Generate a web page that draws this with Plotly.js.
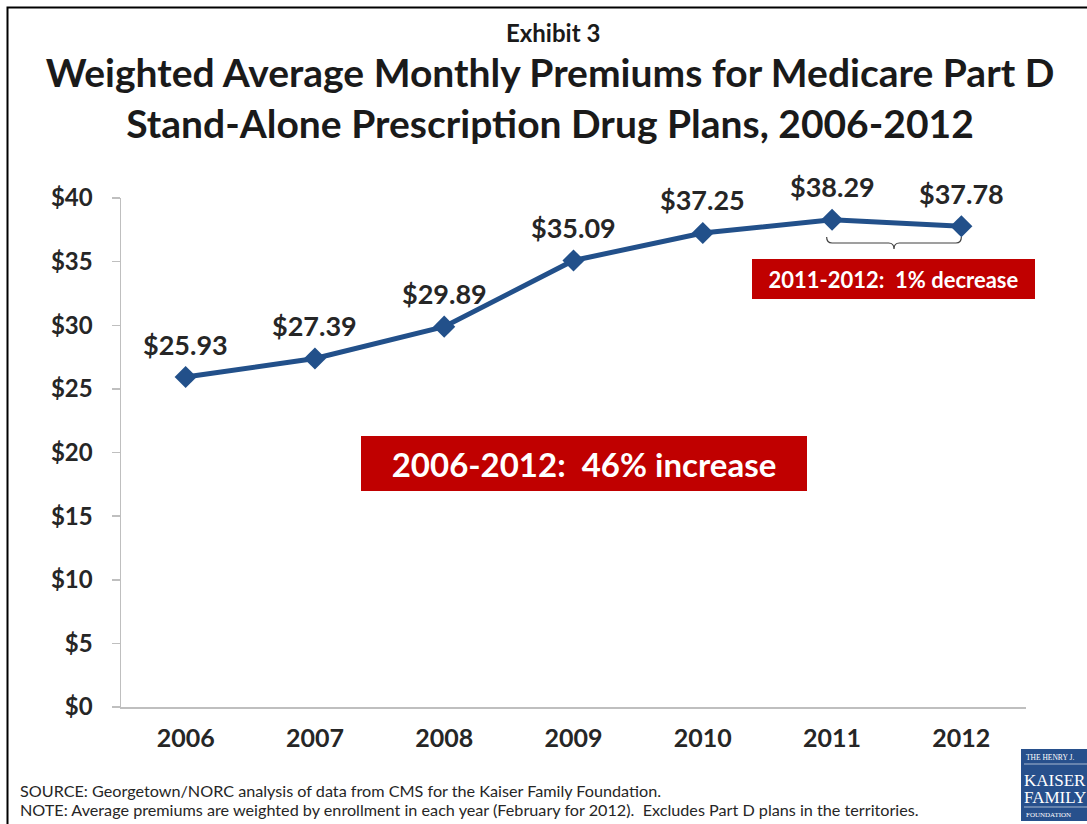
<!DOCTYPE html>
<html>
<head>
<meta charset="utf-8">
<script src="https://cdn.plot.ly/plotly-3.0.1.min.js"></script>
<style>html,body{margin:0;padding:0;background:#fff;}#chart{width:1087px;height:824px;}</style>
</head>
<body>
<div id="chart"></div>
<script>
const years = ["2006", "2007", "2008", "2009", "2010", "2011", "2012"];
const premiums = [25.93, 27.39, 29.89, 35.09, 37.25, 38.29, 37.78];
const valueLabels = ["$25.93", "$27.39", "$29.89", "$35.09", "$37.25", "$38.29", "$37.78"];
const yTickVals = [0, 5, 10, 15, 20, 25, 30, 35, 40];
const yTickText = ["$0", "$5", "$10", "$15", "$20", "$25", "$30", "$35", "$40"];
const exhibitText = "Exhibit 3";
const titleText = "Weighted Average Monthly Premiums for Medicare Part D<br>Stand-Alone Prescription Drug Plans, 2006-2012";
const bigCallout = "2006-2012:\u00a0 46% increase";
const smallCallout = "2011-2012:\u00a0 1% decrease";
const sourceText = "SOURCE: Georgetown/NORC analysis of data from CMS for the Kaiser Family Foundation.";
const noteText = "NOTE: Average premiums are weighted by enrollment in each year (February for 2012).  Excludes Part D plans in the territories.";

const FONT = "Lato, 'Open Sans', sans-serif";
const SERIF = "'Liberation Serif', 'DejaVu Serif', serif";
const W = 1087, H = 824;
const L = 121, R = 61, T = 198, B = 117;
const pw = W - L - R, ph = H - T - B;
const px = v => (v - L) / pw;
const py = v => (H - B - v) / ph;

const trace = {
  x: years, y: premiums, type: 'scatter', mode: 'lines+markers',
  line: {color: '#22508A', width: 5},
  marker: {symbol: 'diamond', size: 17, color: '#22508A'},
  hoverinfo: 'skip'
};

const annotations = years.map((yr, i) => ({
  x: i, y: premiums[i], xref: 'x', yref: 'y',
  text: '<b>' + valueLabels[i] + '</b>', showarrow: false,
  xanchor: 'center', yanchor: 'middle', yshift: 33,
  font: {family: FONT, size: 27, color: '#262626'}
}));

function paperText(x, y, text, font, extra) {
  return Object.assign({xref: 'paper', yref: 'paper', x: px(x), y: py(y), text: text, showarrow: false,
    xanchor: 'center', yanchor: 'middle', font: font}, extra || {});
}

annotations.push(
  paperText(553, 32, '<b>' + exhibitText + '</b>', {family: FONT, size: 24, color: '#1a1a1a'}),
  paperText(584, 463.5, '<b>' + bigCallout + '</b>', {family: FONT, size: 33, color: '#ffffff'},
    {width: 446, height: 55, bgcolor: '#C00000', borderpad: 0, borderwidth: 0}),
  paperText(893.5, 279, '<b>' + smallCallout + '</b>', {family: FONT, size: 22, color: '#ffffff'},
    {width: 283, height: 40, bgcolor: '#C00000', borderpad: 0, borderwidth: 0}),
  paperText(18, 790.5, sourceText, {family: FONT, size: 16.2, color: '#262626'}, {xanchor: 'left'}),
  paperText(18, 809.5, noteText, {family: FONT, size: 16.2, color: '#262626'}, {xanchor: 'left'}),
  paperText(1024, 758, 'THE HENRY J.', {family: SERIF, size: 7.5, color: '#ffffff'}, {xanchor: 'left'}),
  paperText(1022, 780, 'KAISER', {family: SERIF, size: 17, color: '#ffffff'}, {xanchor: 'left'}),
  paperText(1022, 797, 'FAMILY', {family: SERIF, size: 17, color: '#ffffff'}, {xanchor: 'left'}),
  paperText(1024, 815, 'FOUNDATION', {family: SERIF, size: 7, color: '#ffffff'}, {xanchor: 'left'})
);

// brace under 2011-2012 (paper coords from category positions)
const bx0 = 5.5 / 7 - 0.006, bx1 = 6.5 / 7, bxm = (bx0 + bx1) / 2;
const yTop = py(237), yMid = py(243), yTip = py(249);
const dx = 0.006;
const bracePath = `M ${bx0} ${yTop} Q ${bx0} ${yMid} ${bx0 + dx} ${yMid} L ${bxm - dx} ${yMid} Q ${bxm} ${yMid} ${bxm} ${yTip} Q ${bxm} ${yMid} ${bxm + dx} ${yMid} L ${bx1 - dx} ${yMid} Q ${bx1} ${yMid} ${bx1} ${yTop}`;

const shapes = [
  {type: 'rect', xref: 'paper', yref: 'paper', x0: px(7.5), x1: px(1100), y0: py(7.5), y1: py(840),
   line: {color: '#000000', width: 2}, fillcolor: 'rgba(0,0,0,0)', layer: 'below'},
  {type: 'rect', xref: 'paper', yref: 'paper', x0: px(1021), x1: px(1095), y0: py(749), y1: py(821),
   line: {width: 0}, fillcolor: '#27508C', layer: 'below'},
  {type: 'line', xref: 'paper', yref: 'paper', x0: px(1024), x1: px(1090), y0: py(764), y1: py(764),
   line: {color: '#ffffff', width: 0.6}},
  {type: 'line', xref: 'paper', yref: 'paper', x0: px(1024), x1: px(1090), y0: py(807), y1: py(807),
   line: {color: '#ffffff', width: 0.6}},
  {type: 'path', xref: 'paper', yref: 'paper', path: bracePath, line: {color: '#404040', width: 1.2}}
];

const layout = {
  width: W, height: H,
  margin: {l: L, r: R, t: T, b: B},
  paper_bgcolor: '#ffffff', plot_bgcolor: '#ffffff',
  showlegend: false,
  title: {text: '<b>' + titleText + '</b>', xref: 'container', x: 550 / W, xanchor: 'center',
          yref: 'container', y: 1 - 87 / H, yanchor: 'top',
          font: {family: FONT, size: 39, color: '#1a1a1a'}},
  xaxis: {type: 'category', range: [-0.5, 6.5], showgrid: false, zeroline: false,
          showline: true, linecolor: '#BFBFBF', linewidth: 1.5, ticks: '',
          tickfont: {family: FONT, size: 25, color: '#262626', weight: 'bold'}, ticklabelstandoff: 8,
          fixedrange: true},
  yaxis: {range: [0, 40], tickvals: yTickVals, ticktext: yTickText, showgrid: false, zeroline: false,
          showline: true, linecolor: '#BFBFBF', linewidth: 1.5, ticks: 'outside', ticklen: 8, tickcolor: '#BFBFBF',
          tickwidth: 1.5, tickfont: {family: FONT, size: 24, color: '#262626', weight: 'bold'}, ticklabelstandoff: 14,
          fixedrange: true},
  annotations: annotations,
  shapes: shapes
};

Plotly.newPlot('chart', [trace], layout, {displayModeBar: false, staticPlot: true});
</script>
</body>
</html>
